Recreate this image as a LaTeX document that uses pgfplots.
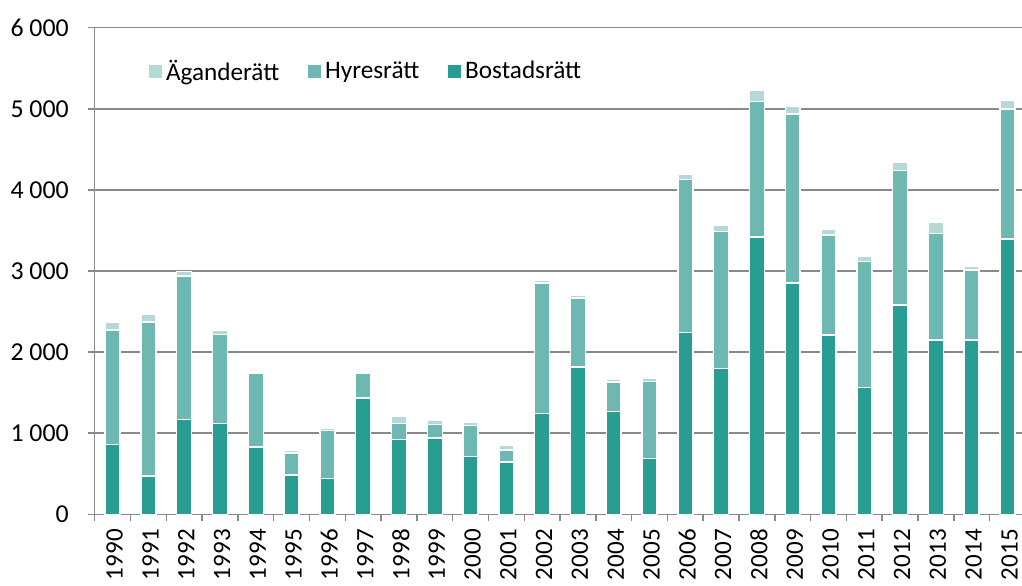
\documentclass[border=0pt]{standalone}
\usepackage{pgfplots}
\usepackage{pgfplotstable}
\pgfplotsset{compat=1.18}
\usepackage{fontspec}
\setmainfont{Carlito}

\definecolor{bost}{HTML}{289E92}
\definecolor{hyr}{HTML}{6DB9B2}
\definecolor{ag}{HTML}{B5D9D6}
\definecolor{axgray}{HTML}{898989}

% year, Bostadsrätt, Hyresrätt, Äganderätt
\pgfplotstableread{
i year bost hyr ag
0 1990 860 1410 95
1 1991 470 1900 95
2 1992 1170 1770 55
3 1993 1120 1100 55
4 1994 830 910 10
5 1995 485 270 30
6 1996 440 595 30
7 1997 1435 310 5
8 1998 920 200 95
9 1999 940 165 55
10 2000 715 380 35
11 2001 645 150 55
12 2002 1240 1610 40
13 2003 1815 855 35
14 2004 1270 360 40
15 2005 690 950 40
16 2006 2240 1890 60
17 2007 1800 1685 80
18 2008 3420 1670 135
19 2009 2855 2080 100
20 2010 2210 1235 75
21 2011 1565 1550 65
22 2012 2580 1660 105
23 2013 2150 1310 140
24 2014 2150 865 45
25 2015 3395 1605 110
}\data

\begin{document}
\begin{tikzpicture}
\begin{axis}[
    scale only axis,
    width=466.7bp, height=244bp,
    xmin=-0.5, xmax=25.5,
    ymin=0, ymax=6000,
    ybar stacked,
    bar width=7.5bp,
    axis lines*=left,
    axis line style={axgray, line width=0.75bp},
    ymajorgrids,
    grid style={axgray, line width=0.75bp},
    tick pos=left,
    tick align=outside,
    major tick length=3.5bp,
    tick style={axgray, line width=0.75bp},
    ytick={0,1000,...,6000},
    yticklabels={0,1 000,2 000,3 000,4 000,5 000,6 000},
    xtick={-0.5,0.5,...,25.5},
    xticklabels={},
    extra x ticks={0,1,...,25},
    extra x tick labels={1990,1991,1992,1993,1994,1995,1996,1997,1998,1999,2000,2001,2002,2003,2004,2005,2006,2007,2008,2009,2010,2011,2012,2013,2014,2015},
    extra x tick style={tick style={draw=none}, grid=none},
    ticklabel style={font=\fontsize{13}{15}\selectfont, black},
    yticklabel style={xshift=-6bp},
    xticklabel style={rotate=90, anchor=east, yshift=-1bp, xshift=-0.5bp,
        font=\fontsize{12.6}{14}\selectfont},
    legend columns=3,
    reverse legend,
    legend style={at={(0.058,0.91)}, anchor=west, draw=none, fill=none,
        inner sep=0pt, font=\fontsize{12.7}{14}\selectfont,
        /tikz/every even column/.append style={column sep=12.5bp}},
    legend image code/.code={\fill[#1,draw=none] (0bp,-3.25bp) rectangle (6.5bp,3.25bp);},
    every axis plot/.append style={draw=white, line width=0.75bp},
]
\addplot[fill=bost] table[x=i, y=bost] {\data};
\addplot[fill=hyr] table[x=i, y=hyr] {\data};
\addplot[fill=ag] table[x=i, y=ag] {\data};
\legend{Bostadsrätt, Hyresrätt, Äganderätt}
\end{axis}
\pgfresetboundingbox
\path (-47.5bp,-35.5bp) rectangle (465bp,257.9bp);
\end{tikzpicture}
\end{document}
